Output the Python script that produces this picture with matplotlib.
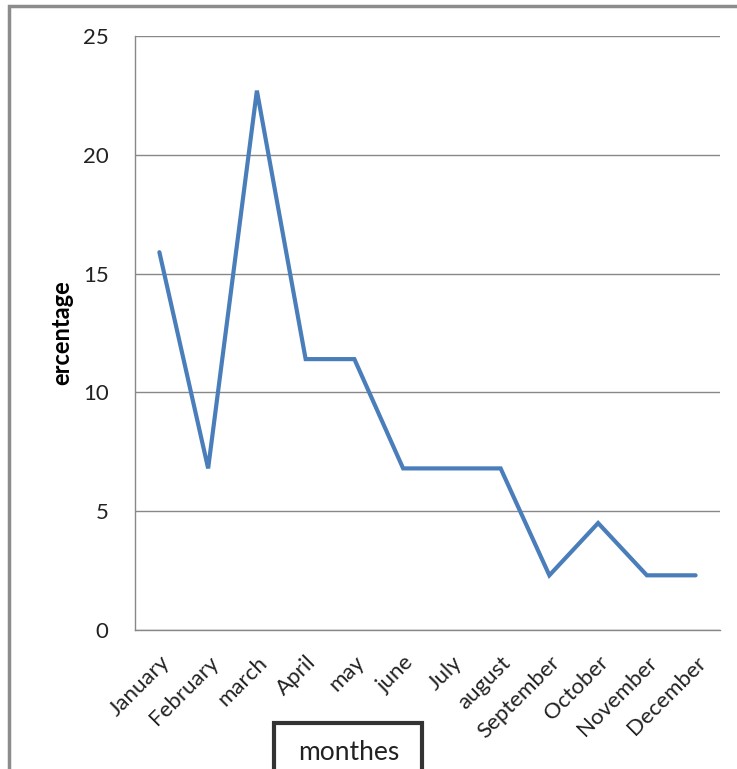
import matplotlib.pyplot as plt
from matplotlib.patches import Rectangle

months = ["January", "February", "march", "April", "may", "june", "July",
          "august", "September", "October", "November", "December"]
percent = [15.9, 6.8, 22.7, 11.4, 11.4, 6.8, 6.8, 6.8, 2.3, 4.5, 2.3, 2.3]
y_ticks = [0, 5, 10, 15, 20, 25]

plt.rcParams['font.family'] = ['Lato', 'DejaVu Sans']

fig = plt.figure(figsize=(7.37, 7.69), dpi=100)
ax = fig.add_axes([0.1832, 0.1808, 0.7937, 0.7724])

x = range(len(months))
ax.plot(x, percent, color='#4a7ebb', linewidth=3, solid_capstyle='round',
        solid_joinstyle='miter', zorder=3)

ax.set_xlim(-0.5, len(months) - 0.5)
ax.set_ylim(0, 25)
ax.set_yticks(y_ticks)
ax.set_yticklabels([str(t) for t in y_ticks], fontsize=16, color='#222222')
ax.set_xticks(list(x))
ax.set_xticklabels(months, rotation=45, ha='right', rotation_mode='anchor',
                   fontsize=16, color='#222222')
ax.tick_params(axis='both', length=0)
ax.tick_params(axis='y', pad=19)
ax.tick_params(axis='x', pad=16)

ax.grid(axis='y', color='#888888', linewidth=1)
ax.set_axisbelow(True)
for side in ['top', 'right']:
    ax.spines[side].set_visible(False)
for side in ['left', 'bottom']:
    ax.spines[side].set_color('#888888')
    ax.spines[side].set_linewidth(1)

ax.set_ylabel("ercentage", fontsize=17, fontweight='bold')
ax.yaxis.set_label_coords(-0.106, 0.5)

# outer chart border (top and left edges)
fig.patches.append(Rectangle((9 / 737, -0.05), 1.1, 1 - 6 / 769 + 0.05,
                             transform=fig.transFigure, fill=False,
                             edgecolor='#8c8c8c', linewidth=2.5))

# axis title in a boxed frame
fig.patches.append(Rectangle((274 / 737, -0.05), 148 / 737, 0.05 + 46 / 769,
                             transform=fig.transFigure, fill=True,
                             facecolor='white', edgecolor='#333333',
                             linewidth=3))
fig.text(349 / 737, 1 - 753 / 769, "monthes", ha='center', va='center',
         fontsize=19, color='#222222')

fig.savefig("out.png", dpi=100)
